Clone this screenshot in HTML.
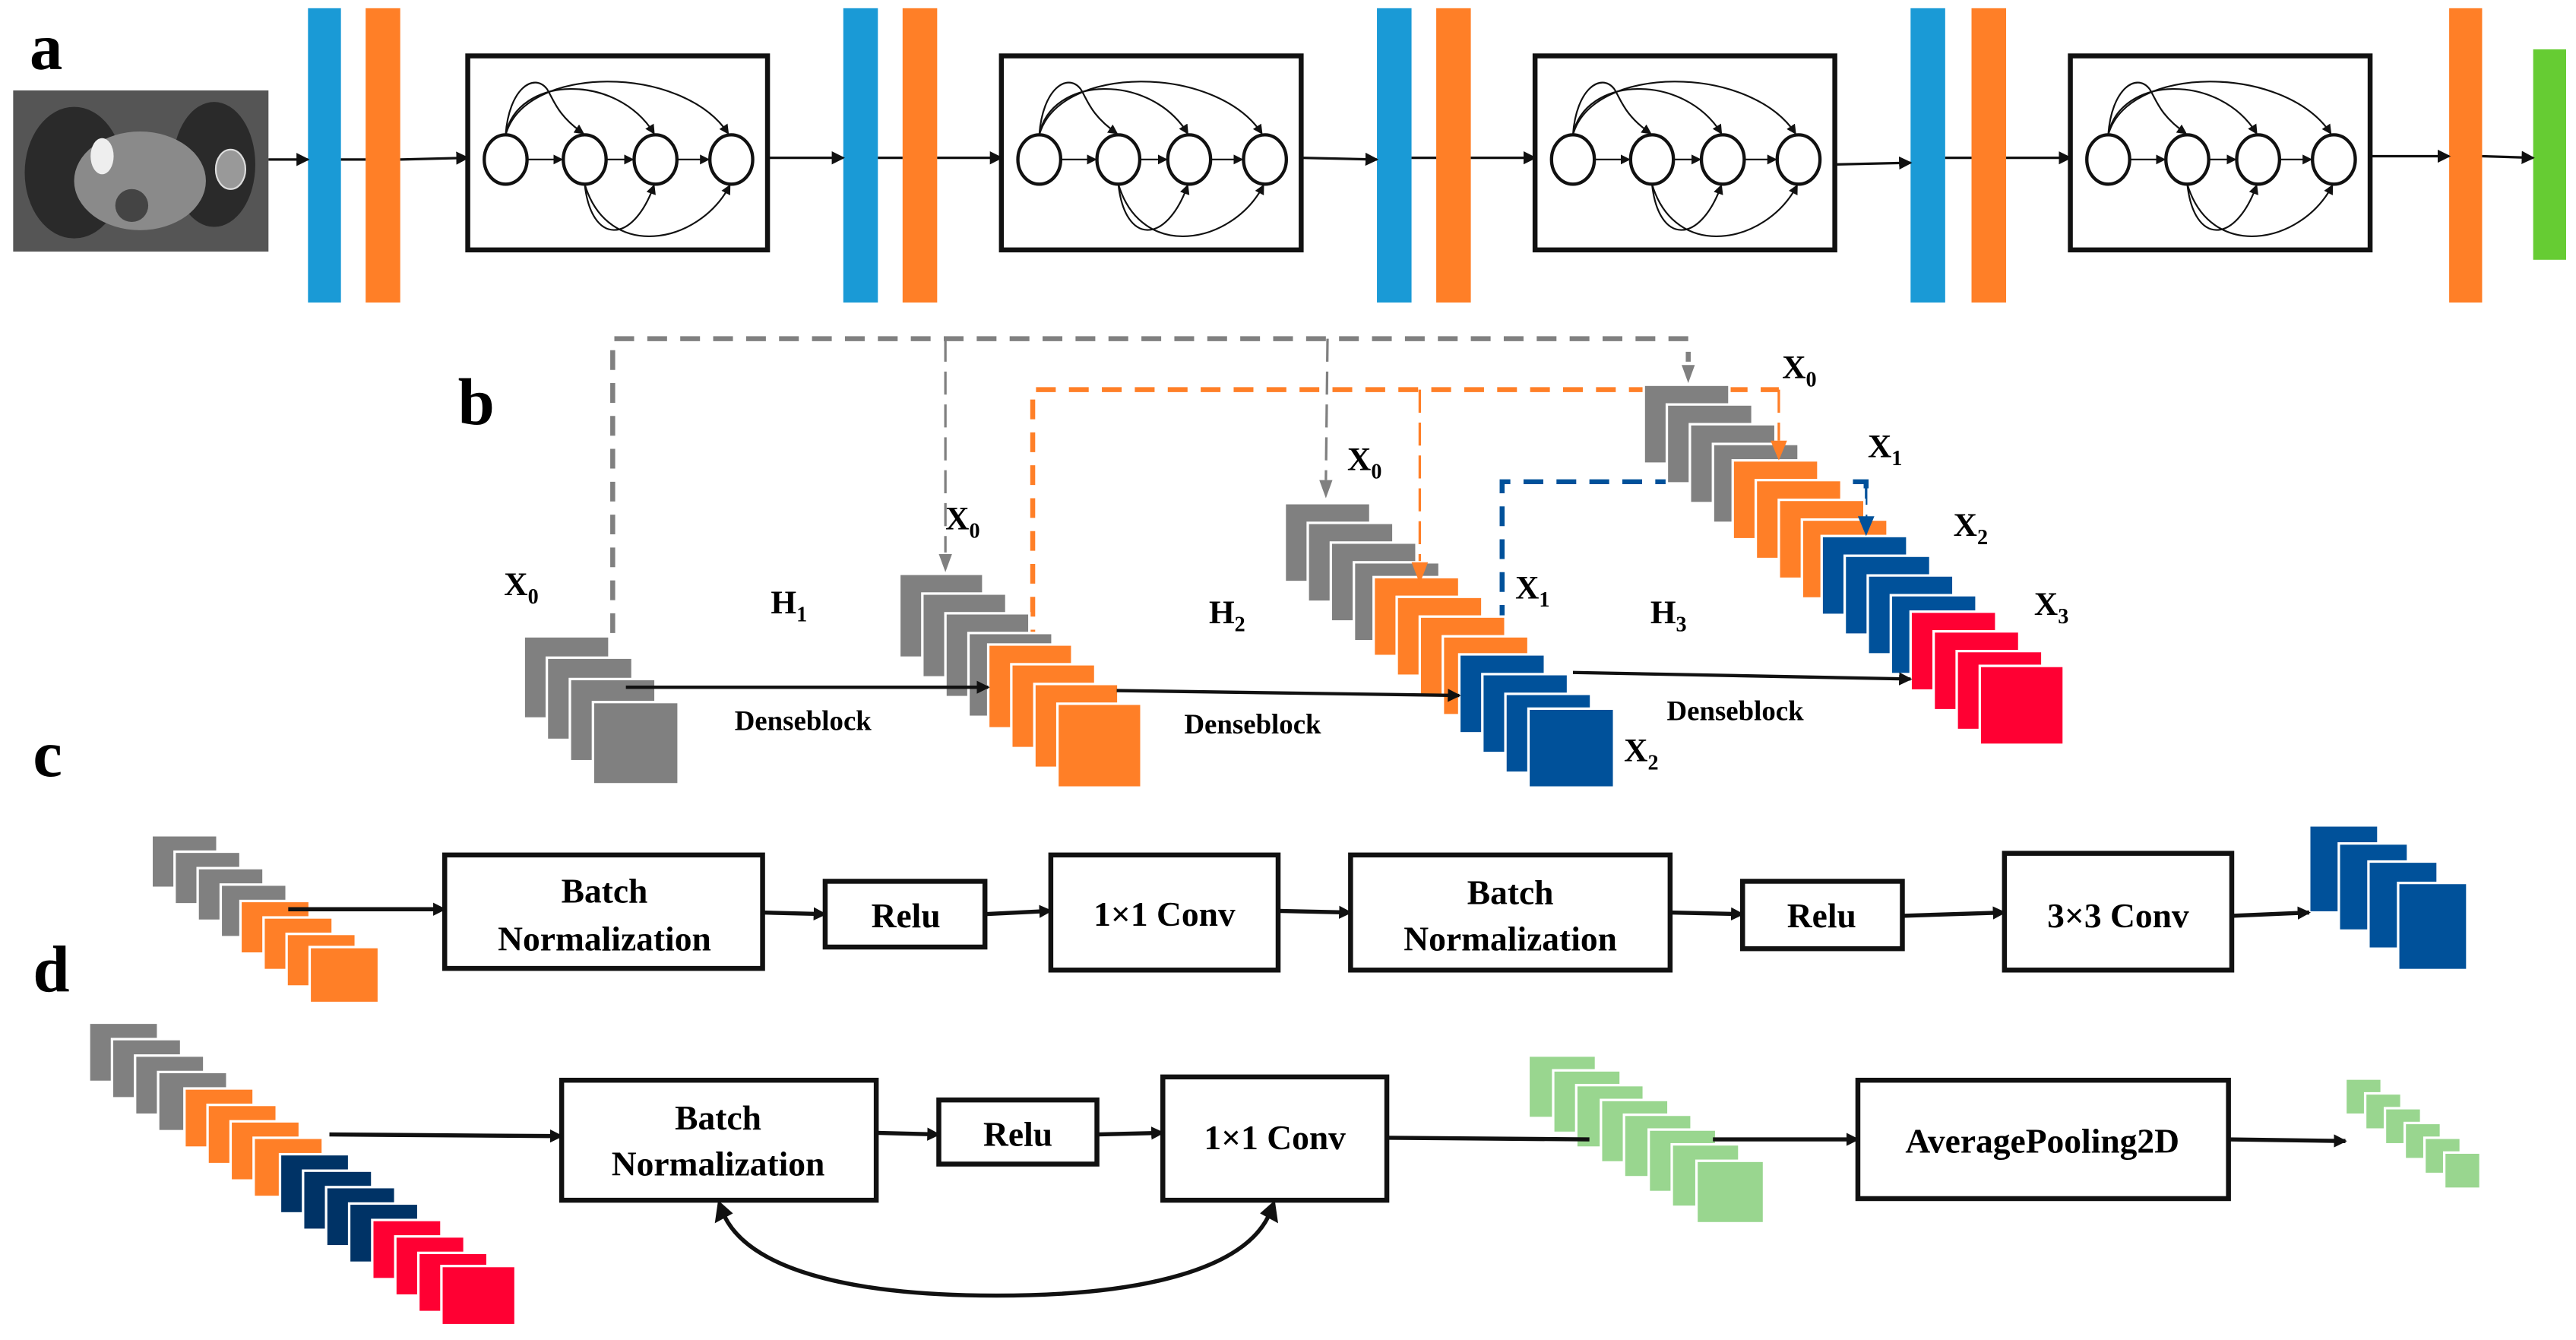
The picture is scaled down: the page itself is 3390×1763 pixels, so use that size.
<!DOCTYPE html>
<html><head><meta charset="utf-8"><style>html,body{margin:0;padding:0;background:#fff}svg{display:block}svg text,svg tspan{font-family:"Liberation Serif","DejaVu Serif","Times New Roman",serif !important;font-weight:bold}</style></head>
<body>
<svg width="3390" height="1763" viewBox="0 0 1564 815" preserveAspectRatio="none" xmlns="http://www.w3.org/2000/svg" font-family="Liberation Serif" font-weight="bold">
<defs>
<marker id="ah" markerWidth="8" markerHeight="8" refX="7" refY="4" orient="auto" markerUnits="userSpaceOnUse"><path d="M0,0 L8,4 L0,8 z" fill="#111"/></marker>
<marker id="ahs" markerWidth="6" markerHeight="6" refX="5" refY="3" orient="auto" markerUnits="userSpaceOnUse"><path d="M0,0 L6,3 L0,6 z" fill="#111"/></marker>
<g id="blk">
<rect x="0" y="0" width="182" height="118" fill="#fff" stroke="#111" stroke-width="3"/>
<g fill="#fff" stroke="#111" stroke-width="2">
<ellipse cx="23" cy="63" rx="13" ry="15"/><ellipse cx="71" cy="63" rx="13" ry="15"/><ellipse cx="114" cy="63" rx="13" ry="15"/><ellipse cx="160" cy="63" rx="13" ry="15"/></g>
<g fill="none" stroke="#111" stroke-width="1">
<line x1="36" y1="63" x2="57" y2="63" marker-end="url(#ahs)"/>
<line x1="84" y1="63" x2="100" y2="63" marker-end="url(#ahs)"/>
<line x1="127" y1="63" x2="146" y2="63" marker-end="url(#ahs)"/>
<path d="M23,48 C25,20 40,10 48,20 C52,26 54,36 70,47" marker-end="url(#ahs)"/>
<path d="M23,48 C30,12 90,10 113,47" marker-end="url(#ahs)"/>
<path d="M23,48 C35,5 130,5 158,47" marker-end="url(#ahs)"/>
<path d="M71,78 C75,115 100,115 113,79" marker-end="url(#ahs)"/>
<path d="M71,78 C85,125 140,115 159,79" marker-end="url(#ahs)"/>
</g></g>
</defs>

<text x="18" y="42" font-size="40">a</text>
<rect x="8" y="55" width="155" height="98" fill="#555"/>
<ellipse cx="45" cy="105" rx="30" ry="40" fill="#2a2a2a"/><ellipse cx="130" cy="100" rx="25" ry="38" fill="#2a2a2a"/>
<ellipse cx="85" cy="110" rx="40" ry="30" fill="#8a8a8a"/><ellipse cx="62" cy="95" rx="7" ry="11" fill="#eee"/>
<ellipse cx="140" cy="103" rx="9" ry="12" fill="#999" stroke="#ddd"/><ellipse cx="80" cy="125" rx="10" ry="10" fill="#444"/>
<g fill="#1a9ad6"><rect x="187" y="5" width="20" height="179"/><rect x="512" y="5" width="21" height="179"/><rect x="836" y="5" width="21" height="179"/><rect x="1160" y="5" width="21" height="179"/></g>
<g fill="#ff7f27"><rect x="222" y="5" width="21" height="179"/><rect x="548" y="5" width="21" height="179"/><rect x="872" y="5" width="21" height="179"/><rect x="1197" y="5" width="21" height="179"/><rect x="1487" y="5" width="20" height="179"/></g>
<rect x="1538" y="30" width="20" height="128" fill="#66cc33"/>
<use href="#blk" x="284" y="34"/><use href="#blk" x="608" y="34"/><use href="#blk" x="932" y="34"/><use href="#blk" x="1257" y="34"/>
<g stroke="#111" stroke-width="1.5">
<line x1="163" y1="97" x2="187" y2="97" marker-end="url(#ah)"/>
<line x1="207" y1="97" x2="222" y2="97"/>
<line x1="243" y1="97" x2="284" y2="96" marker-end="url(#ah)"/>
<line x1="466" y1="96" x2="512" y2="96" marker-end="url(#ah)"/>
<line x1="533" y1="96" x2="548" y2="96"/>
<line x1="569" y1="96" x2="608" y2="96" marker-end="url(#ah)"/>
<line x1="790" y1="96" x2="836" y2="97" marker-end="url(#ah)"/>
<line x1="857" y1="96" x2="872" y2="96"/>
<line x1="893" y1="96" x2="932" y2="96" marker-end="url(#ah)"/>
<line x1="1114" y1="100" x2="1160" y2="99" marker-end="url(#ah)"/>
<line x1="1181" y1="96" x2="1197" y2="96"/>
<line x1="1218" y1="96" x2="1257" y2="96" marker-end="url(#ah)"/>
<line x1="1439" y1="95" x2="1487" y2="95" marker-end="url(#ah)"/>
<line x1="1507" y1="95" x2="1538" y2="96" marker-end="url(#ah)"/>
</g>

<text x="278" y="258" font-size="40">b</text>
<g fill="none" stroke-width="3" stroke-dasharray="12,8">
<path d="M372,385 V206 H1025 V220" stroke="#808080"/>
<path d="M627,395 V237 H1080" stroke="#ff7f27"/>
<path d="M912,400 V293 H1133 V300" stroke="#00519a"/>
</g>
<g fill="none" stroke-width="1.5" stroke-dasharray="14,6">
<line x1="574" y1="206" x2="574" y2="336" stroke="#808080"/>
<line x1="806" y1="206" x2="805" y2="292" stroke="#808080"/>
<line x1="862" y1="237" x2="862" y2="342" stroke="#ff7f27"/>
<line x1="1080" y1="237" x2="1080" y2="268" stroke="#ff7f27"/>
<line x1="1133" y1="293" x2="1133" y2="316" stroke="#00519a"/>
</g>
<g stroke="#fff" stroke-width="1.5">
<g fill="#808080"><rect x="318" y="387" width="52" height="50"/><rect x="332" y="400" width="52" height="50"/><rect x="346" y="413" width="52" height="50"/><rect x="360" y="427" width="52" height="50"/></g>
<g fill="#808080"><rect x="546" y="349" width="51" height="51"/><rect x="560" y="361" width="51" height="51"/><rect x="574" y="373" width="51" height="51"/><rect x="588" y="385" width="51" height="51"/></g>
<g fill="#ff7f27"><rect x="600" y="392" width="51" height="51"/><rect x="614" y="404" width="51" height="51"/><rect x="628" y="416" width="51" height="51"/><rect x="642" y="428" width="51" height="51"/></g>
<g fill="#808080"><rect x="780" y="306" width="52" height="48"/><rect x="794" y="318" width="52" height="48"/><rect x="808" y="330" width="52" height="48"/><rect x="822" y="342" width="52" height="48"/></g>
<g fill="#ff7f27"><rect x="834" y="351" width="52" height="48"/><rect x="848" y="363" width="52" height="48"/><rect x="862" y="375" width="52" height="48"/><rect x="876" y="387" width="52" height="48"/></g>
<g fill="#00519a"><rect x="886" y="398" width="52" height="48"/><rect x="900" y="410" width="52" height="48"/><rect x="914" y="422" width="52" height="48"/><rect x="928" y="431" width="52" height="48"/></g>
<g fill="#808080"><rect x="998" y="234" width="52" height="48"/><rect x="1012" y="246" width="52" height="48"/><rect x="1026" y="258" width="52" height="48"/><rect x="1040" y="270" width="52" height="48"/></g>
<g fill="#ff7f27"><rect x="1052" y="280" width="52" height="48"/><rect x="1066" y="292" width="52" height="48"/><rect x="1080" y="304" width="52" height="48"/><rect x="1094" y="316" width="52" height="48"/></g>
<g fill="#00519a"><rect x="1106" y="326" width="52" height="48"/><rect x="1120" y="338" width="52" height="48"/><rect x="1134" y="350" width="52" height="48"/><rect x="1148" y="362" width="52" height="48"/></g>
<g fill="#ff0033"><rect x="1160" y="372" width="52" height="48"/><rect x="1174" y="384" width="52" height="48"/><rect x="1188" y="396" width="52" height="48"/><rect x="1202" y="405" width="51" height="48"/></g>
</g>
<polygon points="570,337 578,337 574,348" fill="#808080"/>
<polygon points="801,292 809,292 805,303" fill="#808080"/>
<polygon points="1021,222 1029,222 1025,233" fill="#808080"/>
<polygon points="857,342 867,342 862,355" fill="#ff7f27"/>
<polygon points="1075,268 1085,268 1080,280" fill="#ff7f27"/>
<polygon points="1128,314 1138,314 1133,326" fill="#00519a"/>
<g stroke="#111" stroke-width="2">
<line x1="380" y1="418" x2="600" y2="418" marker-end="url(#ah)"/>
<line x1="678" y1="420" x2="886" y2="423" marker-end="url(#ah)"/>
<line x1="955" y1="409" x2="1160" y2="413" marker-end="url(#ah)"/>
</g>
<g font-size="20">
<text x="306" y="362">X<tspan font-size="13" dy="5">0</tspan></text>
<text x="574" y="322">X<tspan font-size="13" dy="5">0</tspan></text>
<text x="818" y="286">X<tspan font-size="13" dy="5">0</tspan></text>
<text x="920" y="364">X<tspan font-size="13" dy="5">1</tspan></text>
<text x="986" y="463">X<tspan font-size="13" dy="5">2</tspan></text>
<text x="1082" y="230">X<tspan font-size="13" dy="5">0</tspan></text>
<text x="1134" y="278">X<tspan font-size="13" dy="5">1</tspan></text>
<text x="1186" y="326">X<tspan font-size="13" dy="5">2</tspan></text>
<text x="1235" y="374">X<tspan font-size="13" dy="5">3</tspan></text>
<text x="468" y="373">H<tspan font-size="13" dy="5">1</tspan></text>
<text x="734" y="379">H<tspan font-size="13" dy="5">2</tspan></text>
<text x="1002" y="379">H<tspan font-size="13" dy="5">3</tspan></text>
</g>
<g font-size="17">
<text x="446" y="444">Denseblock</text>
<text x="719" y="446">Denseblock</text>
<text x="1012" y="438">Denseblock</text>
</g>

<text x="20" y="472" font-size="40">c</text>
<g stroke="#fff" stroke-width="1.5">
<g fill="#808080"><rect x="92" y="508" width="40" height="32"/><rect x="106" y="518" width="40" height="32"/><rect x="120" y="528" width="40" height="32"/><rect x="134" y="538" width="40" height="32"/></g>
<g fill="#ff7f27"><rect x="146" y="548" width="42" height="32"/><rect x="160" y="558" width="42" height="32"/><rect x="174" y="568" width="42" height="32"/><rect x="188" y="576" width="42" height="34"/></g>
<g fill="#00519a"><rect x="1402" y="502" width="42" height="53"/><rect x="1420" y="513" width="42" height="53"/><rect x="1438" y="524" width="42" height="53"/><rect x="1456" y="537" width="42" height="53"/></g>
</g>
<g fill="#fff" stroke="#111" stroke-width="3">
<rect x="270" y="520" width="193" height="69"/><rect x="501" y="536" width="97" height="40"/><rect x="638" y="520" width="138" height="70"/>
<rect x="820" y="520" width="194" height="70"/><rect x="1058" y="536" width="97" height="41"/><rect x="1217" y="519" width="138" height="71"/>
</g>
<g stroke="#111" stroke-width="2.5">
<line x1="175" y1="553" x2="270" y2="553" marker-end="url(#ah)"/>
<line x1="463" y1="555" x2="501" y2="556" marker-end="url(#ah)"/>
<line x1="598" y1="556" x2="638" y2="554" marker-end="url(#ah)"/>
<line x1="776" y1="554" x2="820" y2="555" marker-end="url(#ah)"/>
<line x1="1014" y1="555" x2="1058" y2="556" marker-end="url(#ah)"/>
<line x1="1155" y1="557" x2="1217" y2="555" marker-end="url(#ah)"/>
<line x1="1355" y1="557" x2="1402" y2="555" marker-end="url(#ah)"/>
</g>
<g font-size="21" text-anchor="middle">
<text x="367" y="549">Batch</text><text x="367" y="578">Normalization</text>
<text x="550" y="564">Relu</text>
<text x="707" y="563">1×1 Conv</text>
<text x="917" y="550">Batch</text><text x="917" y="578">Normalization</text>
<text x="1106" y="564">Relu</text>
<text x="1286" y="564">3×3 Conv</text>
</g>

<text x="20" y="603" font-size="40">d</text>
<g stroke="#fff" stroke-width="1.5">
<g fill="#808080"><rect x="54" y="622" width="42" height="36"/><rect x="68" y="632" width="42" height="36"/><rect x="82" y="642" width="42" height="36"/><rect x="96" y="652" width="42" height="36"/></g>
<g fill="#ff7f27"><rect x="112" y="662" width="42" height="36"/><rect x="126" y="672" width="42" height="36"/><rect x="140" y="682" width="42" height="36"/><rect x="154" y="692" width="42" height="36"/></g>
<g fill="#003366"><rect x="170" y="702" width="42" height="36"/><rect x="184" y="712" width="42" height="36"/><rect x="198" y="722" width="42" height="36"/><rect x="212" y="732" width="42" height="36"/></g>
<g fill="#ff0033"><rect x="226" y="742" width="42" height="36"/><rect x="240" y="752" width="42" height="36"/><rect x="254" y="762" width="42" height="36"/><rect x="268" y="770" width="45" height="36"/></g>
<g fill="#99d68f"><rect x="928" y="642" width="41" height="38"/><rect x="943" y="651" width="41" height="38"/><rect x="957" y="660" width="41" height="38"/><rect x="972" y="669" width="41" height="38"/><rect x="986" y="678" width="41" height="38"/><rect x="1001" y="687" width="41" height="38"/><rect x="1015" y="696" width="41" height="38"/><rect x="1030" y="706" width="41" height="38"/></g>
<g fill="#99d68f"><rect x="1424" y="656" width="22" height="22"/><rect x="1436" y="665" width="22" height="22"/><rect x="1448" y="674" width="22" height="22"/><rect x="1460" y="683" width="22" height="22"/><rect x="1472" y="692" width="22" height="22"/><rect x="1484" y="701" width="22" height="22"/></g>
</g>
<g fill="#fff" stroke="#111" stroke-width="3">
<rect x="341" y="657" width="191" height="73"/><rect x="570" y="669" width="96" height="39"/><rect x="706" y="655" width="136" height="75"/><rect x="1128" y="657" width="225" height="72"/>
</g>
<g stroke="#111" stroke-width="2.5" fill="none">
<line x1="200" y1="690" x2="341" y2="691" marker-end="url(#ah)"/>
<line x1="532" y1="689" x2="570" y2="690" marker-end="url(#ah)"/>
<line x1="666" y1="690" x2="706" y2="689" marker-end="url(#ah)"/>
<line x1="842" y1="692" x2="965" y2="693"/>
<line x1="1040" y1="693" x2="1128" y2="693" marker-end="url(#ah)"/>
<line x1="1353" y1="693" x2="1424" y2="694" marker-end="url(#ah)"/>
<path d="M440,740 C455,770 510,788 605,788 C700,788 755,770 770,740"/>
</g>
<polygon points="436,730 434,744 445,738" fill="#111"/>
<polygon points="774,730 776,744 765,738" fill="#111"/>
<g font-size="21" text-anchor="middle">
<text x="436" y="687">Batch</text><text x="436" y="715">Normalization</text>
<text x="618" y="697">Relu</text>
<text x="774" y="699">1×1 Conv</text>
<text x="1240" y="701">AveragePooling2D</text>
</g>
</svg>
</body></html>
